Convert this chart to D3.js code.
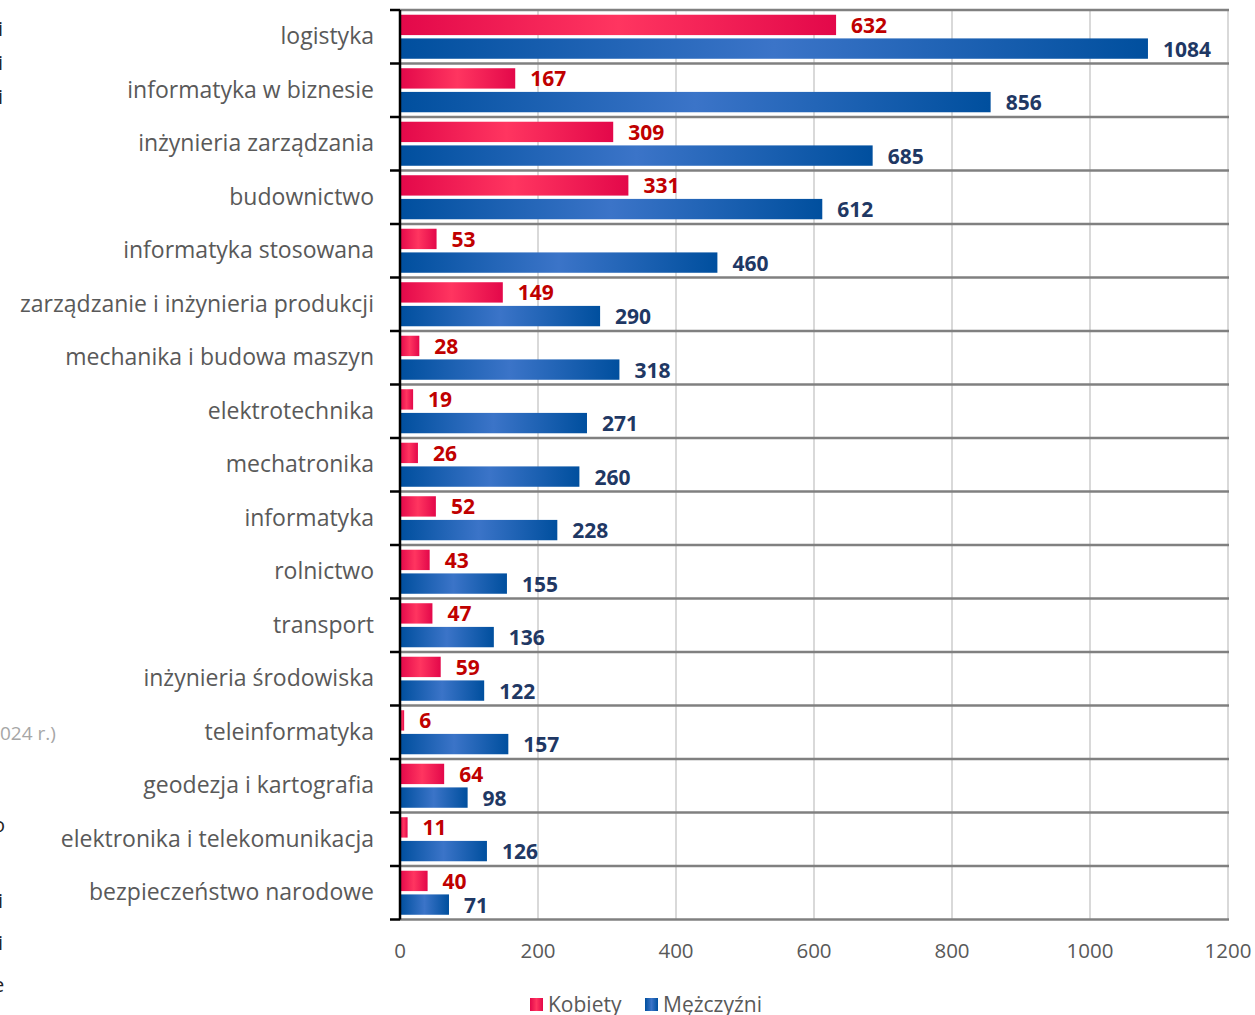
<!DOCTYPE html>
<html>
<head>
<meta charset="utf-8">
<script src="https://cdn.jsdelivr.net/npm/d3@7"></script>
<style>
  body { margin: 0; background: #fff; }
  svg { display: block; }
  text { font-family: "Open Sans", sans-serif; }
</style>
</head>
<body>
<svg width="1255" height="1015"></svg>
<script>
"use strict";

// categories, top to bottom
var categories = ["logistyka", "informatyka w biznesie", "inżynieria zarządzania", "budownictwo",
  "informatyka stosowana", "zarządzanie i inżynieria produkcji", "mechanika i budowa maszyn",
  "elektrotechnika", "mechatronika", "informatyka", "rolnictwo", "transport",
  "inżynieria środowiska", "teleinformatyka", "geodezja i kartografia",
  "elektronika i telekomunikacja", "bezpieczeństwo narodowe"];
var kobiety = [632, 167, 309, 331, 53, 149, 28, 19, 26, 52, 43, 47, 59, 6, 64, 11, 40];
var mezczyzni = [1084, 856, 685, 612, 460, 290, 318, 271, 260, 228, 155, 136, 122, 157, 98, 126, 71];
var seriesNames = ["Kobiety", "Mężczyźni"];
var xTicks = [0, 200, 400, 600, 800, 1000, 1200];

var svg = d3.select("svg");

// gradients for the bars
var defs = svg.append("defs");
function addGrad(id, edge, mid) {
  var g = defs.append("linearGradient").attr("id", id)
    .attr("x1", "0").attr("x2", "1").attr("y1", "0").attr("y2", "0");
  g.append("stop").attr("offset", "0%").attr("stop-color", edge);
  g.append("stop").attr("offset", "50%").attr("stop-color", mid);
  g.append("stop").attr("offset", "100%").attr("stop-color", edge);
}
addGrad("gradK", "#e3084a", "#ff3560");
addGrad("gradM", "#004f9e", "#3b74c8");

// bits of the surrounding document showing at the left edge
var frag = svg.append("g").attr("fill", "#222").style("font-size", "20px");
[36, 70, 104].forEach(function(yy) {
  frag.append("text").attr("x", -2).attr("y", yy).text("i");
});
svg.append("text").attr("x", 0).attr("y", 740).attr("fill", "#a6a6a6")
  .style("font-size", "19px").text("024 r.)");
frag.append("text").attr("x", -7).attr("y", 832).text("o");
frag.append("text").attr("x", -2).attr("y", 908).text("i");
frag.append("text").attr("x", -2).attr("y", 950).text("i");
frag.append("text").attr("x", -7).attr("y", 992).text("e");

var x = d3.scaleLinear().domain([0, 1200]).range([400, 1228]);
var y = d3.scaleBand().domain(categories).range([10, 919.5]);
var inner = d3.scaleBand().domain(seriesNames).range([0, y.bandwidth()])
  .paddingInner(0.14).paddingOuter(0.2);

// vertical gridlines
svg.append("g").selectAll("line").data(xTicks.slice(1)).enter().append("line")
  .attr("x1", function(d) { return x(d); }).attr("x2", function(d) { return x(d); })
  .attr("y1", y.range()[0]).attr("y2", y.range()[1])
  .attr("stroke", "#d9d9d9").attr("stroke-width", 2);

// band separators
var bounds = categories.map(function(c) { return y(c); }).concat([y.range()[1]]);
svg.append("g").selectAll("line").data(bounds).enter().append("line")
  .attr("x1", 400).attr("x2", 1229)
  .attr("y1", function(d) { return d; }).attr("y2", function(d) { return d; })
  .attr("stroke", "#808080").attr("stroke-width", 2.5);

// bars
var rows = categories.map(function(c, i) {
  return { cat: c, vals: [kobiety[i], mezczyzni[i]] };
});
var g = svg.append("g").selectAll("g").data(rows).enter().append("g")
  .attr("transform", function(d) { return "translate(0," + y(d.cat) + ")"; });

g.each(function(d) {
  var sel = d3.select(this);
  d.vals.forEach(function(v, j) {
    var s = seriesNames[j];
    sel.append("rect")
      .attr("x", x(0)).attr("y", inner(s))
      .attr("width", x(v) - x(0)).attr("height", inner.bandwidth())
      .attr("fill", j == 0 ? "url(#gradK)" : "url(#gradM)");
    sel.append("text")
      .attr("x", x(v) + 15).attr("y", inner(s) + inner.bandwidth() / 2 + 0.5)
      .attr("dy", "0.36em")
      .attr("fill", j == 0 ? "#c00000" : "#1f3864")
      .style("font-size", "21px").style("font-weight", "bold")
      .text(v);
  });
});

// y axis with category labels
svg.append("line").attr("x1", 400).attr("x2", 400)
  .attr("y1", y.range()[0]).attr("y2", y.range()[1])
  .attr("stroke", "#000").attr("stroke-width", 2.5);
svg.append("g").selectAll("line").data(bounds).enter().append("line")
  .attr("x1", 390).attr("x2", 400)
  .attr("y1", function(d) { return d; }).attr("y2", function(d) { return d; })
  .attr("stroke", "#000").attr("stroke-width", 2.5);
svg.append("g").selectAll("text").data(categories).enter().append("text")
  .attr("x", 374).attr("y", function(d) { return y(d) + y.bandwidth() / 2 - 1; })
  .attr("dy", "0.36em").attr("text-anchor", "end")
  .attr("fill", "#595959").style("font-size", "23px")
  .text(function(d) { return d; });

// x axis tick labels
svg.append("g").selectAll("text").data(xTicks).enter().append("text")
  .attr("x", function(d) { return x(d); }).attr("y", 951).attr("dy", "0.36em")
  .attr("text-anchor", "middle").attr("fill", "#595959").style("font-size", "20.5px")
  .text(function(d) { return d; });

// legend
var leg = svg.append("g").attr("transform", "translate(530,1004)");
var legX = [0, 115];
seriesNames.forEach(function(s, i) {
  leg.append("rect").attr("x", legX[i]).attr("y", -6).attr("width", 13).attr("height", 13)
    .attr("fill", i == 0 ? "url(#gradK)" : "url(#gradM)");
  leg.append("text").attr("x", legX[i] + 18).attr("y", 0).attr("dy", "0.36em")
    .attr("fill", "#595959").style("font-size", "21px").text(s);
});
</script>
</body>
</html>
